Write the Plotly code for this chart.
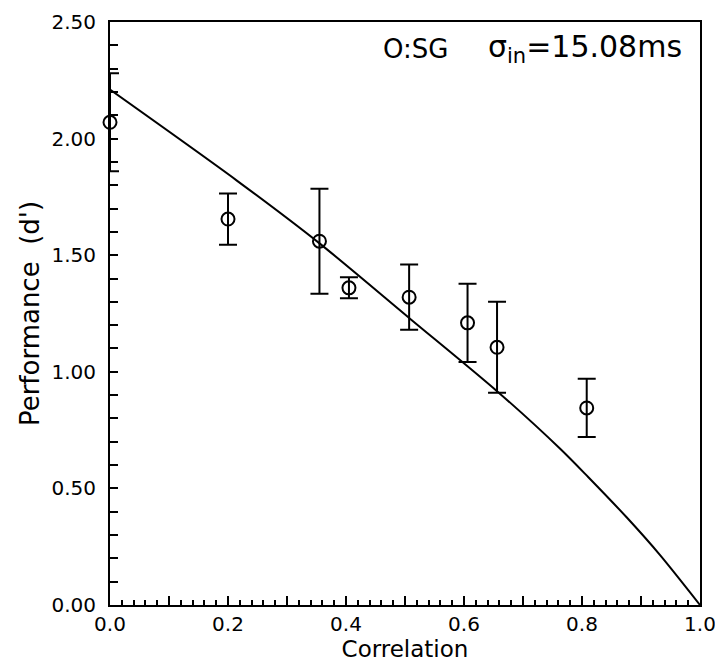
import plotly.graph_objects as go

# Data points
corr = [0.0, 0.20, 0.355, 0.405, 0.507, 0.606, 0.656, 0.808]
dprime = [2.07, 1.655, 1.56, 1.36, 1.32, 1.21, 1.105, 0.845]
err = [0.21, 0.11, 0.225, 0.045, 0.14, 0.168, 0.195, 0.125]

# Model curve
curve_x = [0.0, 0.215, 0.353, 0.508, 0.656, 0.763, 0.81, 0.876, 0.932, 1.0]
curve_y = [2.21, 1.82, 1.555, 1.229, 0.917, 0.67, 0.55, 0.375, 0.215, 0.0]

x_tickvals = [0.0, 0.1, 0.2, 0.3, 0.4, 0.5, 0.6, 0.7, 0.8, 0.9, 1.0]
x_ticktext = ["0.0", "", "0.2", "", "0.4", "", "0.6", "", "0.8", "", "1.0"]

FONT = "'DejaVu Sans', sans-serif"

fig = go.Figure()
fig.add_trace(go.Scatter(
    x=curve_x, y=curve_y, mode="lines", line=dict(color="black", width=2, shape="spline", smoothing=0.8),
    showlegend=False, hoverinfo="skip", cliponaxis=False))
fig.add_trace(go.Scatter(
    x=corr, y=dprime, mode="markers", cliponaxis=False,
    marker=dict(symbol="circle-open", size=13, color="black", line=dict(width=2, color="black")),
    error_y=dict(type="data", array=err, visible=True, color="black", thickness=2, width=9),
    showlegend=False))

fig.add_annotation(x=0.46, y=2.385, xref="x", yref="y", text="O:SG", showarrow=False,
                   xanchor="left", yanchor="middle", font=dict(family=FONT, size=26, color="black"))
fig.add_annotation(x=0.638, y=2.385, xref="x", yref="y", text="σ<sub>in</sub>=15.08ms", showarrow=False,
                   xanchor="left", yanchor="middle", font=dict(family=FONT, size=30, color="black"))

fig.update_layout(
    width=715, height=662,
    margin=dict(l=110, r=15, t=22, b=57, autoexpand=False),
    paper_bgcolor="white", plot_bgcolor="white",
    font=dict(family=FONT, color="black", size=20),
    xaxis=dict(
        range=[0, 1.0], tickvals=x_tickvals, ticktext=x_ticktext, automargin=False,
        ticks="inside", ticklen=9, tickwidth=2, tickcolor="black",
        minor=dict(dtick=0.02, ticks="inside", ticklen=5, tickwidth=1.5, tickcolor="black"),
        showline=True, linecolor="black", linewidth=2, mirror=True,
        showgrid=False, zeroline=False,
        tickfont=dict(size=20), ticklabeloverflow="allow",
        title=dict(text="Correlation", font=dict(size=23), standoff=0),
    ),
    yaxis=dict(
        range=[0, 2.5], dtick=0.5, tickformat=".2f", automargin=False,
        ticks="inside", ticklen=8, tickwidth=2, tickcolor="black",
        minor=dict(dtick=0.1, ticks="inside", ticklen=8, tickwidth=2, tickcolor="black"),
        showline=True, linecolor="black", linewidth=2, mirror=True,
        showgrid=False, zeroline=False,
        tickfont=dict(size=20), ticklabelstandoff=8,
        title=dict(text="Performance  (d')", font=dict(size=26), standoff=4),
    ),
)

fig.write_html("out.html")
